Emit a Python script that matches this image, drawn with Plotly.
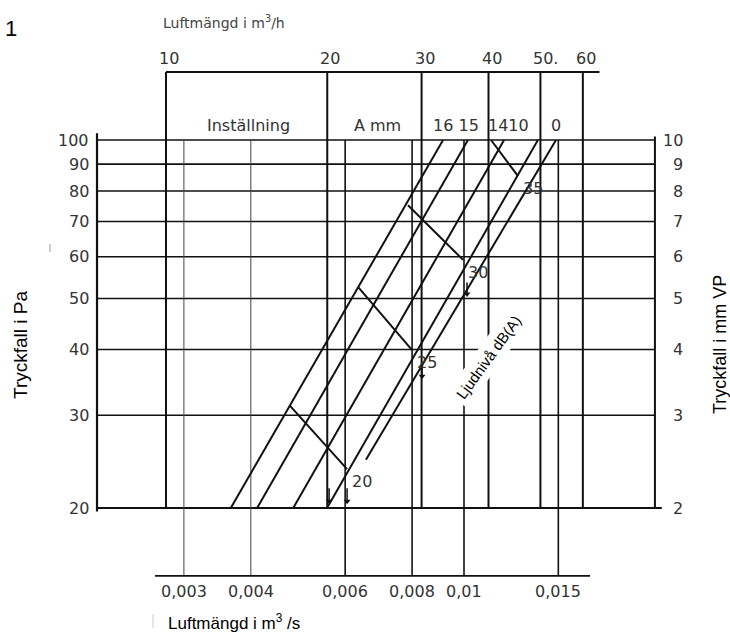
import math
import plotly.graph_objects as go

# ---------------- data ----------------
pa_ticks = [20, 30, 40, 50, 60, 70, 80, 90, 100]           # Tryckfall i Pa
mm_vp_ticks = [2, 3, 4, 5, 6, 7, 8, 9, 10]                 # Tryckfall i mm VP
q_s_ticks = [0.003, 0.004, 0.006, 0.008, 0.01, 0.015]      # Luftmängd i m3/s
q_s_labels = ["0,003", "0,004", "0,006", "0,008", "0,01", "0,015"]
q_h_ticks = [10, 20, 30, 40, 50, 60]                       # Luftmängd i m3/h
q_h_labels = ["10", "20", "30", "40", "50.", "60"]

# damper setting lines (Inställning A mm)
damper_settings = ["16", "15", "14", "10", "0"]
damper_q_low = [0.00367, 0.00411, 0.00480, 0.00555, 0.00656]
damper_p_low = [20, 20, 20, 20, 24.7]
damper_q_high = [0.00914, 0.01017, 0.01188, 0.01374, 0.01485]
damper_p_high = [100, 100, 100, 100, 100]

# sound level lines (Ljudnivå dB(A))
noise_db = ["20", "25", "30", "35"]
noise_q_start = [0.00473, 0.00634, 0.00786, 0.01123]
noise_p_start = [31.3, 52.6, 75.2, 100]
noise_q_end = [0.00605, 0.00800, 0.00996, 0.01261]
noise_p_end = [23.7, 39.9, 59.2, 85.4]

# small reading arrows (tip and tail)
arrow_q = [0.00560, 0.00605, 0.00835, 0.01013]
arrow_p_tip = [20.6, 20.6, 35.6, 51.0]
arrow_p_tail = [21.8, 21.8, 37.4, 53.6]

# chart frame extents (in axis units)
Q_AXIS_LEFT = 0.002065      # left Pa scale line
Q_RIGHT = 0.02272           # right mm VP scale line
Q_BASE_END = 0.0234         # end of the 20 Pa base line
Q_SCALE_L, Q_SCALE_R = 0.00265, 0.01719   # bottom m3/s scale line
Q_HEAD_R = 0.0179           # end of header top line
P_HEAD = 134.6              # header top line (m3/h scale)
P_SCALE = 14.86             # bottom m3/s scale line

# ---------------- figure geometry ----------------
W, H = 730, 636
ML, MR, MT, MB = 90, 60, 68, 56
X_RANGE = [-2.69816, -1.61546]
Y_RANGE = [1.16428, 2.13675]
PW, PH = W - ML - MR, H - MT - MB


def px(xp):
    return (xp - ML) / PW


def py(yp):
    return (H - MB - yp) / PH


LINE = "#111111"
fig = go.Figure()


def add_lines(segs, width, color=LINE):
    xs, ys = [], []
    for (x0, y0, x1, y1) in segs:
        xs += [x0, x1, None]
        ys += [y0, y1, None]
    fig.add_trace(go.Scatter(x=xs, y=ys, mode="lines",
                             line=dict(color=color, width=width),
                             hoverinfo="skip", showlegend=False))


# horizontal pressure lines
add_lines([(Q_AXIS_LEFT, p, Q_RIGHT, p) for p in pa_ticks if p != 20], 1.6)
add_lines([(Q_AXIS_LEFT, 20, Q_BASE_END, 20)], 2.0)
# left and right scale lines
add_lines([(Q_AXIS_LEFT, 19.7, Q_AXIS_LEFT, 103)], 2.2)
add_lines([(Q_RIGHT, 20, Q_RIGHT, 101.5)], 2.0)
# m3/h verticals (header to 20 Pa)
add_lines([(q / 3600, P_HEAD, q / 3600, 20) for q in q_h_ticks], 2.0)
add_lines([(q_h_ticks[0] / 3600, P_HEAD, Q_HEAD_R, P_HEAD)], 2.0)
# m3/s verticals (100 Pa down to bottom scale)
add_lines([(q, 100, q, P_SCALE) for q in q_s_ticks[:2]], 1.0, "#444444")
add_lines([(q, 100, q, P_SCALE) for q in q_s_ticks[2:]], 1.6)
add_lines([(Q_SCALE_L, P_SCALE, Q_SCALE_R, P_SCALE)], 1.8)

# damper lines
add_lines([(damper_q_low[i], damper_p_low[i], damper_q_high[i], damper_p_high[i])
           for i in range(len(damper_settings))], 2.0)
# noise lines
add_lines([(noise_q_start[i], noise_p_start[i], noise_q_end[i], noise_p_end[i])
           for i in range(len(noise_db))], 2.0)
# arrows
add_lines([(q, a, q, b) for q, a, b in zip(arrow_q, arrow_p_tip, arrow_p_tail)], 1.5)
fig.add_trace(go.Scatter(x=arrow_q, y=arrow_p_tip, mode="markers",
                         marker=dict(symbol="triangle-down", size=6, color=LINE),
                         hoverinfo="skip", showlegend=False))

fig.update_layout(
    width=W, height=H, autosize=False,
    margin=dict(l=ML, r=MR, t=MT, b=MB),
    paper_bgcolor="white", plot_bgcolor="white",
    xaxis=dict(type="log", range=X_RANGE, visible=False, fixedrange=True),
    yaxis=dict(type="log", range=Y_RANGE, visible=False, fixedrange=True),
    showlegend=False,
    shapes=[
        dict(type="line", xref="paper", yref="paper", x0=px(50), x1=px(50),
             y0=py(244), y1=py(252), line=dict(color="#999999", width=1)),
        dict(type="line", xref="paper", yref="paper", x0=px(153), x1=px(153),
             y0=py(614), y1=py(628), line=dict(color="#cccccc", width=1)),
    ],
)

SCAN = dict(family="DejaVu Sans", size=16, color="#333333")
CLEAN = "Liberation Sans, Arial, sans-serif"
ann = []
lg = math.log10
# left Pa labels
for p in pa_ticks:
    ann.append(dict(x=lg(Q_AXIS_LEFT), y=lg(p), xref="x", yref="y", text=str(p),
                    showarrow=False, xanchor="right", yanchor="middle", xshift=-6,
                    font=SCAN))
# right mm VP labels
for m, p in zip(mm_vp_ticks, pa_ticks):
    ann.append(dict(x=lg(Q_RIGHT), y=lg(p), xref="x", yref="y", text=str(m),
                    showarrow=False, xanchor="right", yanchor="middle", xshift=30,
                    font=SCAN))
# top m3/h labels
for q, t in zip(q_h_ticks, q_h_labels):
    ann.append(dict(x=lg(q / 3600), y=lg(P_HEAD), xref="x", yref="y", text=t,
                    showarrow=False, xanchor="center", yanchor="middle", yshift=14,
                    xshift=3 if t != "50." else 5, font=SCAN))
# bottom m3/s labels
for q, t in zip(q_s_ticks, q_s_labels):
    ann.append(dict(x=lg(q), y=lg(P_SCALE), xref="x", yref="y", text=t,
                    showarrow=False, xanchor="center", yanchor="middle", yshift=-16,
                    font=SCAN))
# noise level labels
for i, t in enumerate(noise_db):
    ann.append(dict(x=lg(noise_q_end[i]), y=lg(noise_p_end[i]), xref="x", yref="y",
                    text=t, showarrow=False, xanchor="left", yanchor="top",
                    xshift=3, yshift=-1, font=SCAN))
# header texts
for txt, xc in [("Inställning", 248), ("A mm", 377), ("16 15", 456),
                ("1410", 509), ("0", 556)]:
    ann.append(dict(x=px(xc), y=py(125), xref="paper", yref="paper", text=txt,
                    showarrow=False, xanchor="center", yanchor="middle", font=SCAN))
# titles
ann += [
    dict(x=px(161), y=py(22), xref="paper", yref="paper",
         text="Luftmängd i m<sup>3</sup>/h", showarrow=False, xanchor="left",
         yanchor="middle", font=dict(family="DejaVu Sans", size=14, color="#444444")),
    dict(x=px(3), y=py(28), xref="paper", yref="paper", text="1", showarrow=False,
         xanchor="left", yanchor="middle", font=dict(family=CLEAN, size=22, color="black")),
    dict(x=px(20), y=py(345), xref="paper", yref="paper", text="Tryckfall i Pa",
         showarrow=False, textangle=-90, xanchor="center", yanchor="middle",
         font=dict(family=CLEAN, size=19, color="black")),
    dict(x=px(720), y=py(345), xref="paper", yref="paper", text="Tryckfall i mm VP",
         showarrow=False, textangle=-90, xanchor="center", yanchor="middle",
         font=dict(family=CLEAN, size=18, color="black")),
    dict(x=px(166), y=py(622), xref="paper", yref="paper",
         text="Luftmängd i m<sup>3</sup> /s", showarrow=False, xanchor="left",
         yanchor="middle", font=dict(family=CLEAN, size=17, color="black")),
    dict(x=px(488), y=py(357), xref="paper", yref="paper", text="Ljudnivå dB(A)",
         showarrow=False, textangle=-54, xanchor="center", yanchor="middle",
         bgcolor="white", borderpad=4,
         font=dict(family=CLEAN, size=15, color="black")),
]
fig.update_layout(annotations=ann)

fig.write_html("out.html",
               config={"displayModeBar": False},
               post_script="document.body.style.margin='0px';"
                           "document.body.style.overflow='hidden';")
